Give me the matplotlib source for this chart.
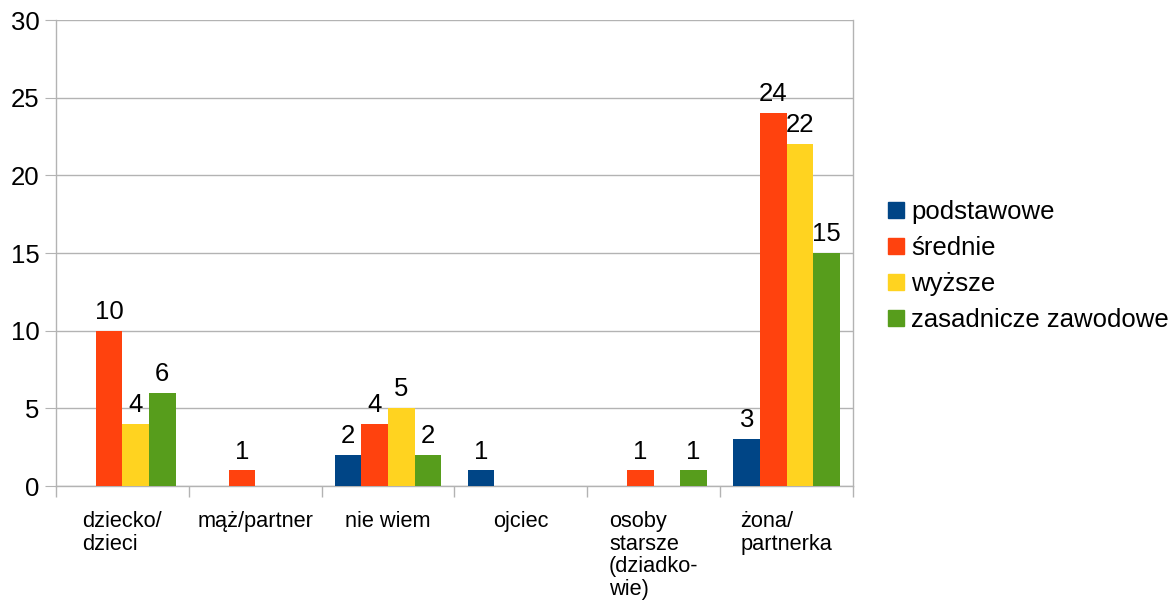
import matplotlib
matplotlib.use("Agg")
import matplotlib.pyplot as plt
from matplotlib.lines import Line2D
import numpy as np

plt.rcParams['font.family'] = ['Liberation Sans', 'DejaVu Sans']

categories = ["dziecko/\ndzieci", "mąż/partner", "nie wiem", "ojciec",
              "osoby\nstarsze\n(dziadko-\nwie)", "żona/\npartnerka"]
series = ["podstawowe", "średnie", "wyższe", "zasadnicze zawodowe"]
# None = no answer in that group
podstawowe = [None, None, 2, 1, None, 3]
srednie = [10, 1, 4, None, 1, 24]
wyzsze = [4, None, 5, None, None, 22]
zasadnicze = [6, None, 2, None, 1, 15]
colors = ["#004586", "#ff420e", "#ffd320", "#579d1c"]

fig = plt.figure(figsize=(11.76, 6.01), dpi=100)
ax = fig.add_axes([0.0476, 0.1913, 0.6777, 0.7754])

grey = "#b3b3b3"
x = np.arange(len(categories))
w = 0.2
for i, (vals, col) in enumerate(zip([podstawowe, srednie, wyzsze, zasadnicze], colors)):
    pos = x - 0.3 + i * w
    h = [np.nan if v is None else v for v in vals]
    ax.bar(pos, h, width=w, color=col, zorder=3)
    for p, v in zip(pos, vals):
        if v is not None:
            ax.annotate(str(v), (p, v), xytext=(0, 5), textcoords="offset points",
                        ha="center", va="bottom", fontsize=18.5, zorder=4)

ax.set_xlim(-0.5, len(categories) - 0.5)
ax.set_ylim(0, 30)
ax.set_yticks(range(0, 31, 5))
ax.tick_params(axis="y", labelsize=18.5, length=8, color=grey, pad=4)
ax.yaxis.grid(True, color=grey, linewidth=1, zorder=0)

ax.set_xticks(np.arange(-0.5, len(categories), 1))
ax.set_xticklabels([])
ax.tick_params(axis="x", length=8, color=grey, width=1)
ax.set_xticks(x, minor=True)
ax.set_xticklabels(categories, minor=True, fontsize=15.7, ha="center",
                   multialignment="left", linespacing=1.1, va="top")
ax.tick_params(axis="x", which="minor", length=0, pad=18)

for s in ["left", "bottom", "right"]:
    ax.spines[s].set_color(grey)
    ax.spines[s].set_linewidth(1)
ax.spines["top"].set_visible(False)

handles = [Line2D([], [], marker="s", linestyle="", markersize=11, color=c) for c in colors]
fig.legend(handles, series, loc="center left", bbox_to_anchor=(0.743, 0.557),
           frameon=False, fontsize=18.5, handlelength=0.7, handletextpad=0.25,
           labelspacing=0.47, borderpad=0)

fig.savefig("out.png", dpi=100)
